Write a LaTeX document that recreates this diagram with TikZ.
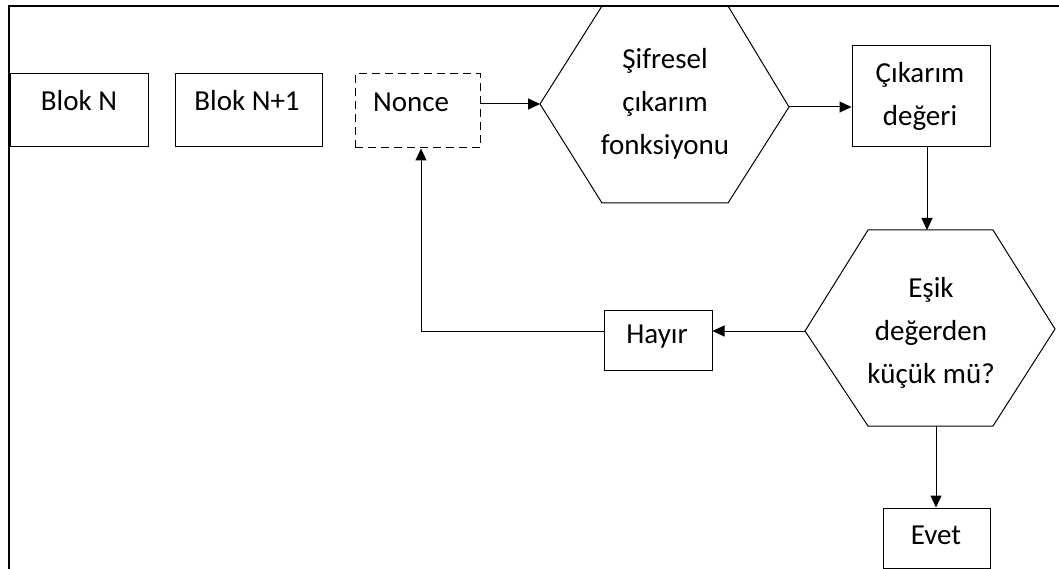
\documentclass[tikz,border=0pt]{standalone}
\usepackage{fontspec}
\setmainfont{Carlito}
\usetikzlibrary{arrows.meta}
\begin{document}
\begin{tikzpicture}[x=1pt,y=-1pt,
  every node/.style={font=\fontsize{29}{43}\selectfont},
  txt/.style={inner sep=0pt,align=center},
  boxed/.style={draw,line width=1pt,inner sep=0pt},
  dashedbox/.style={boxed,dash pattern=on 8pt off 5pt},
  edge/.style={line width=1pt},
  flow/.style={line width=1pt,-{Triangle[length=12pt,width=11pt]}}]
\useasboundingbox (0,0) rectangle (1059,569);

% page frame (left and top)
\draw[line width=2pt] (9,569) -- (9,6) -- (1059,6);

% block boxes
\node[boxed,minimum width=138,minimum height=73] (blokn) at (79,110.5) {};
\node[txt] (blokntext) at (79,101) {Blok N};
\node[boxed,minimum width=147,minimum height=73] (blokn1) at (248.5,110.5) {};
\node[txt] (blokn1text) at (247,101) {Blok N+1};
\node[dashedbox,minimum width=125,minimum height=74] (nonce) at (417.5,111) {};
\node[txt] (noncetext) at (411,102) {Nonce};

% hash function hexagon
\coordinate (h1w) at (540,104);
\coordinate (h1e) at (789,107);
\draw[edge] (h1w) -- (602,6) -- (728,6) -- (h1e) -- (728,203) -- (602,203) -- cycle;
\node[txt] (sifre) at (665,104) {Şifresel\\çıkarım\\fonksiyonu};

% output value box
\node[boxed,minimum width=138,minimum height=101] (cikti) at (921,96.5) {};
\node[txt] (ciktitext) at (920,96) {Çıkarım\\değeri};

% decision hexagon
\coordinate (h2w) at (805,331);
\coordinate (h2e) at (1055,329);
\coordinate (h2n) at (927,230);
\coordinate (h2s) at (936,426);
\draw[edge] (h2w) -- (868,230) -- (993,230) -- (h2e) -- (993,426) -- (868,426) -- cycle;
\node[txt] (esik) at (931,333) {Eşik\\değerden\\küçük mü?};

% answer boxes
\node[boxed,minimum width=108,minimum height=60] (hayir) at (658,340) {};
\node[txt] (hayirtext) at (657,337) {Hayır};
\node[boxed,minimum width=107,minimum height=60] (evet) at (936.5,538) {};
\node[txt] (evettext) at (936,535) {Evet};

% connectors
\coordinate (loop) at (421,331);
\draw[flow] (nonce.east |- h1w) -- (h1w);
\draw[flow] (h1e) -- (h1e -| cikti.west);
\draw[flow] (cikti.south -| h2n) -- (h2n);
\draw[flow] (h2w) -- (h2w -| hayir.east);
\draw[flow] (hayir.west |- loop) -- (loop) -- (loop |- nonce.south);
\draw[flow] (h2s) -- (h2s |- evet.north);
\end{tikzpicture}
\end{document}
